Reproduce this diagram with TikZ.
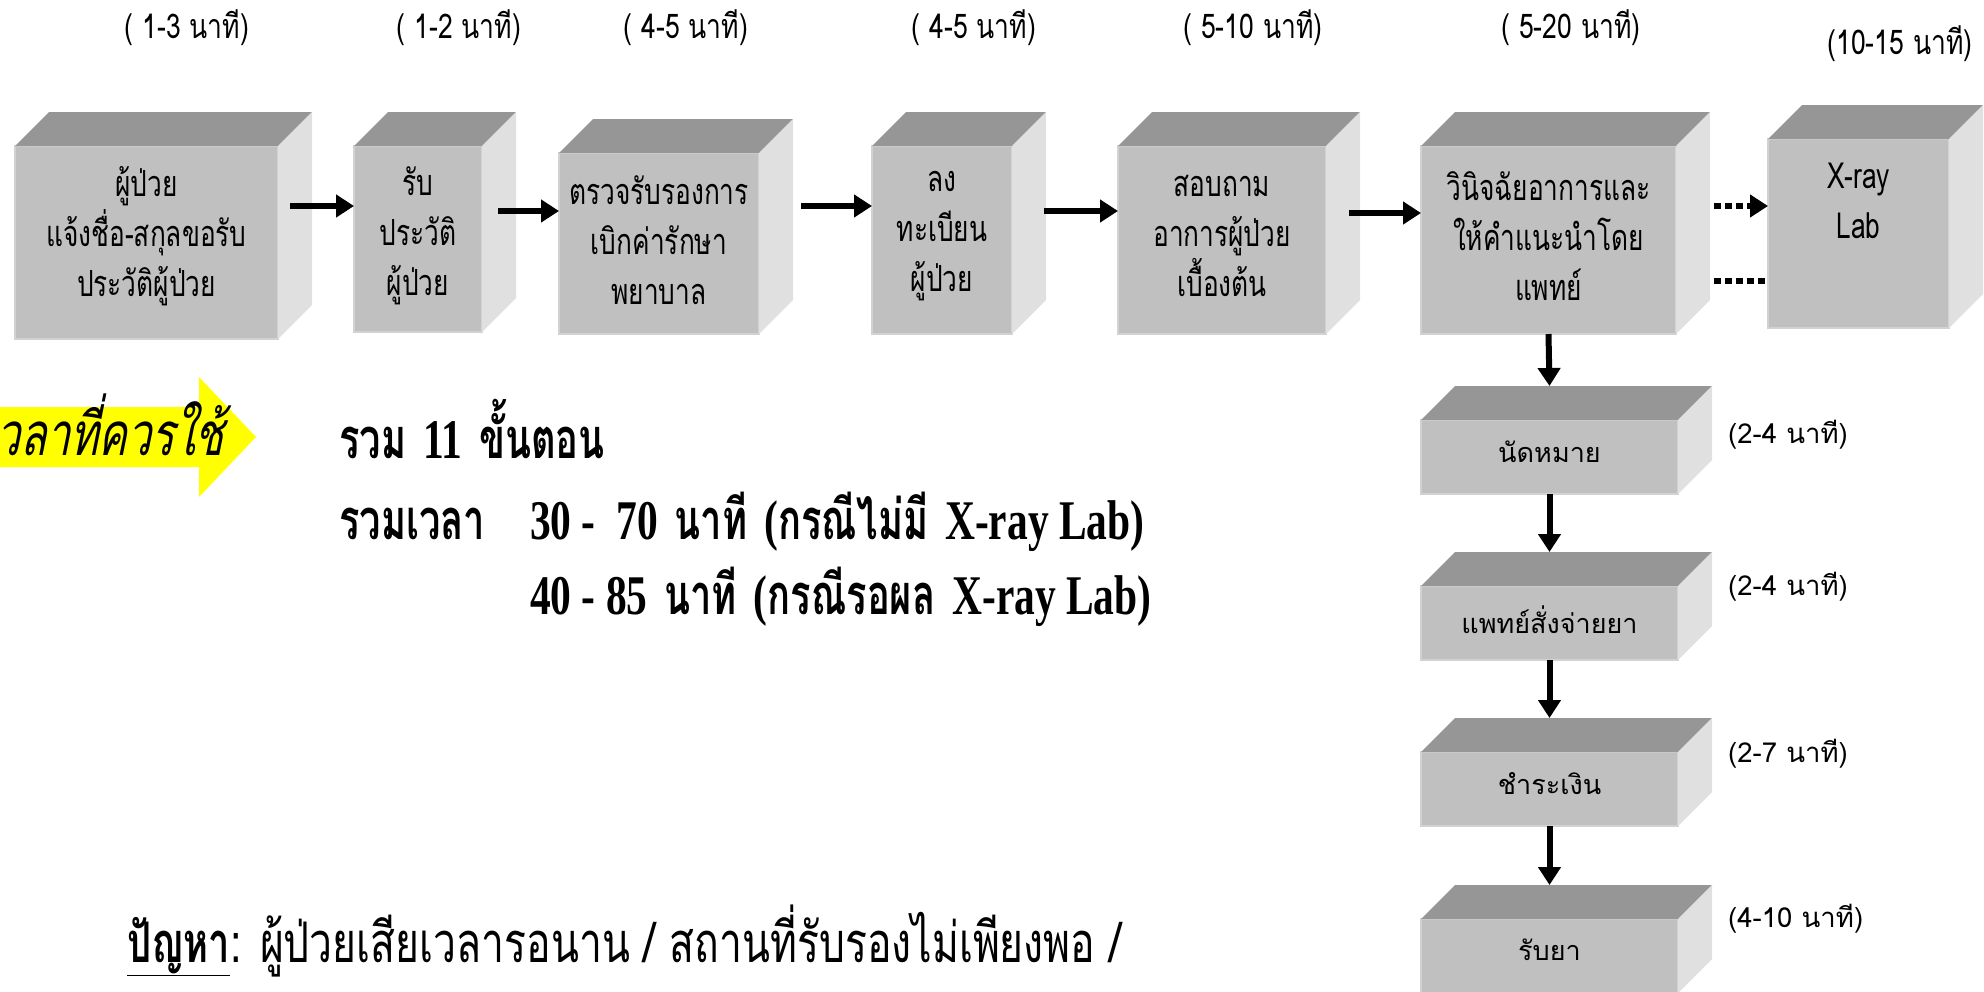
\documentclass[tikz,border=0pt]{standalone}
\usepackage{fontspec}
\usetikzlibrary{arrows.meta,calc}
\newfontfamily\thcond[Script=Thai,FakeStretch=0.73]{Loma}
\newfontfamily\thtop[Script=Thai,FakeStretch=0.78]{Loma}
\newfontfamily\threg[Script=Thai]{Loma}
\newfontfamily\thprob[Script=Thai,FakeStretch=0.73]{Loma}
\newfontfamily\thital[Script=Thai,FakeSlant=0.2,FakeStretch=0.71]{Loma}
\newfontfamily\thboldfam[Script=Thai,FakeStretch=0.68]{Loma}
\newfontfamily\serbfam[FakeStretch=0.74]{Liberation Serif}
\newcommand\thb[1]{{\thboldfam\bfseries #1}}
\newcommand\lab[1]{{\serbfam\bfseries #1}}
\newcommand\nolsk{\lineskiplimit=-100pt\relax}
\definecolor{frontc}{HTML}{C0C0C0}
\definecolor{topc}{HTML}{969696}
\definecolor{sidec}{HTML}{E0E0E0}
\definecolor{edgec}{HTML}{D2D2D2}
\definecolor{yel}{HTML}{FFFF00}
\tikzset{
  box/.style={rectangle, fill=frontc, draw=edgec, line width=1.5pt, inner sep=0pt, outer sep=0pt},
  boxtext/.style={align=center, inner sep=0pt, font=\thcond\fontsize{36}{50}\selectfont\nolsk},
  vtext/.style={align=center, inner sep=0pt, font=\threg\fontsize{27}{40}\selectfont},
  toplabel/.style={inner sep=0pt, font=\thtop\fontsize{34}{36}\selectfont},
  sidelabel/.style={inner sep=0pt, anchor=west, font=\threg\fontsize{27.5}{30}\selectfont},
  arr/.style={line width=6pt, -{Triangle[length=18pt,width=22pt]}},
  dotarr/.style={line width=6pt, dash pattern=on 7pt off 4pt, -{Triangle[length=18pt,width=22pt]}},
  dotline/.style={line width=6pt, dash pattern=on 7pt off 4pt},
  bigline/.style={inner sep=0pt, anchor=base west, font=\fontsize{56}{60}\selectfont}
}
\newcommand\cubefaces[1]{%
  \fill[topc] (#1.north west) -- ++(34,-34) -- ($(#1.north east)+(34,-34)$) -- (#1.north east) -- cycle;
  \fill[sidec] (#1.north east) -- ++(34,-34) -- ($(#1.south east)+(34,-34)$) -- (#1.south east) -- cycle;}
\begin{document}
\begin{tikzpicture}[x=1pt,y=-1pt]
\useasboundingbox (0,0) rectangle (1984,991);
% top time labels
\node[toplabel] (l1) at (187,28) {( 1-3 นาที)};
\node[toplabel] (l2) at (459,28) {( 1-2 นาที)};
\node[toplabel] (l3) at (686,28) {( 4-5 นาที)};
\node[toplabel] (l4) at (974,28) {( 4-5 นาที)};
\node[toplabel] (l5) at (1253,28) {( 5-10 นาที)};
\node[toplabel] (l6) at (1571,28) {( 5-20 นาที)};
\node[toplabel] (l7) at (1900,44) {(10-15 นาที)};
% horizontal boxes
\node[box, minimum width=263, minimum height=193] (b1) at (146.5,242.5) {};
\node[box, minimum width=128, minimum height=186] (b2) at (418,239) {};
\node[box, minimum width=200, minimum height=181] (b3) at (659,243.5) {};
\node[box, minimum width=140, minimum height=188] (b4) at (942,240) {};
\node[box, minimum width=208, minimum height=188] (b5) at (1222,240) {};
\node[box, minimum width=255, minimum height=188] (b6) at (1548.5,240) {};
\node[box, minimum width=181, minimum height=189] (b7) at (1858.5,233.5) {};
% vertical boxes
\node[box, minimum width=257, minimum height=74] (b8) at (1549.5,457) {};
\node[box, minimum width=257, minimum height=74] (b9) at (1549.5,623) {};
\node[box, minimum width=257, minimum height=74] (b10) at (1549.5,789) {};
\node[box, minimum width=257, minimum height=74] (b11) at (1549.5,956) {};
\foreach \b in {b1,b2,b3,b4,b5,b6,b7,b8,b9,b10,b11}{\cubefaces{\b}}
% box texts
\node[boxtext] (t1) at (146.5,236) {ผู้ป่วย\\แจ้งชื่อ-สกุลขอรับ\\ประวัติผู้ป่วย};
\node[boxtext] (t2) at (418,236) {รับ\\ประวัติ\\ผู้ป่วย};
\node[boxtext] (t3) at (659,240) {ตรวจรับรองการ\\เบิกค่ารักษา\\พยาบาล};
\node[boxtext] (t4) at (942,236) {ลง\\ทะเบียน\\ผู้ป่วย};
\node[boxtext] (t5) at (1222,236) {สอบถาม\\อาการผู้ป่วย\\เบื้องต้น};
\node[boxtext] (t6) at (1548.5,236) {วินิจฉัยอาการและ\\ให้คำแนะนำโดย\\แพทย์};
\node[boxtext] (t7) at (1858.5,201) {X-ray\\Lab};
\node[vtext] (t8) at (1549.5,452) {นัดหมาย};
\node[vtext] (t9) at (1549.5,620) {แพทย์สั่งจ่ายยา};
\node[vtext] (t10) at (1549.5,784) {ชำระเงิน};
\node[vtext] (t11) at (1549.5,950) {รับยา};
% side time labels
\node[sidelabel] (s8) at (1728,435) {(2-4 นาที)};
\node[sidelabel] (s9) at (1728,587) {(2-4 นาที)};
\node[sidelabel] (s10) at (1728,754) {(2-7 นาที)};
\node[sidelabel] (s11) at (1728,919) {(4-10 นาที)};
% horizontal arrows
\draw[arr] ($(b1.east |- 0,206)+(12,0)$) -- (b2.west |- 0,206);
\draw[arr] ($(b2.east |- 0,211)+(16,0)$) -- (b3.west |- 0,211);
\draw[arr] ($(b3.east |- 0,206)+(42,0)$) -- (b4.west |- 0,206);
\draw[arr] ($(b4.east |- 0,211)+(32,0)$) -- (b5.west |- 0,211);
\draw[arr] ($(b5.east |- 0,213)+(23,0)$) -- (b6.west |- 0,213);
\draw[dotarr] ($(b6.east |- 0,206)+(38,0)$) -- (b7.west |- 0,206);
\draw[dotline] ($(b6.east |- 0,281)+(38,0)$) -- (b7.west |- 0,281);
% vertical arrows
\draw[arr] (b6.south) -- ($(b8.north)+(0,-34)$);
\draw[arr] (b8.south) -- ($(b9.north)+(0,-34)$);
\draw[arr] (b9.south) -- ($(b10.north)+(0,-34)$);
\draw[arr] (b10.south) -- ($(b11.north)+(0,-34)$);
% yellow arrow
\fill[yel] (0,407) -- (199,407) -- (199,377) -- (256,437) -- (199,497) -- (199,467) -- (0,467) -- cycle;
\node[inner sep=0pt, anchor=base east, font=\thital\fontsize{60}{60}\selectfont] (ya) at (224,455) {เวลาที่ควรใช้};
% summary
\node[bigline] (sum1) at (339,458) {\thb{รวม} \lab{11} \thb{ขั้นตอน}};
\node[bigline] (sum2a) at (339,539) {\thb{รวมเวลา}};
\node[bigline] (sum2b) at (530,539) {\lab{30 -\ \ 70} \thb{นาที} \lab{(}\thb{กรณีไม่มี} \lab{X-ray Lab)}};
\node[bigline] (sum3) at (530,614) {\lab{40 - 85} \thb{นาที} \lab{(}\thb{กรณีรอผล} \lab{X-ray Lab)}};
% problem line
\node[inner sep=0pt, anchor=base west, font=\fontsize{56}{60}\selectfont] (prob) at (127,962) {\thb{\underline{ปัญหา}}{\thprob: ผู้ป่วยเสียเวลารอนาน / สถานที่รับรองไม่เพียงพอ /}};
\end{tikzpicture}
\end{document}
